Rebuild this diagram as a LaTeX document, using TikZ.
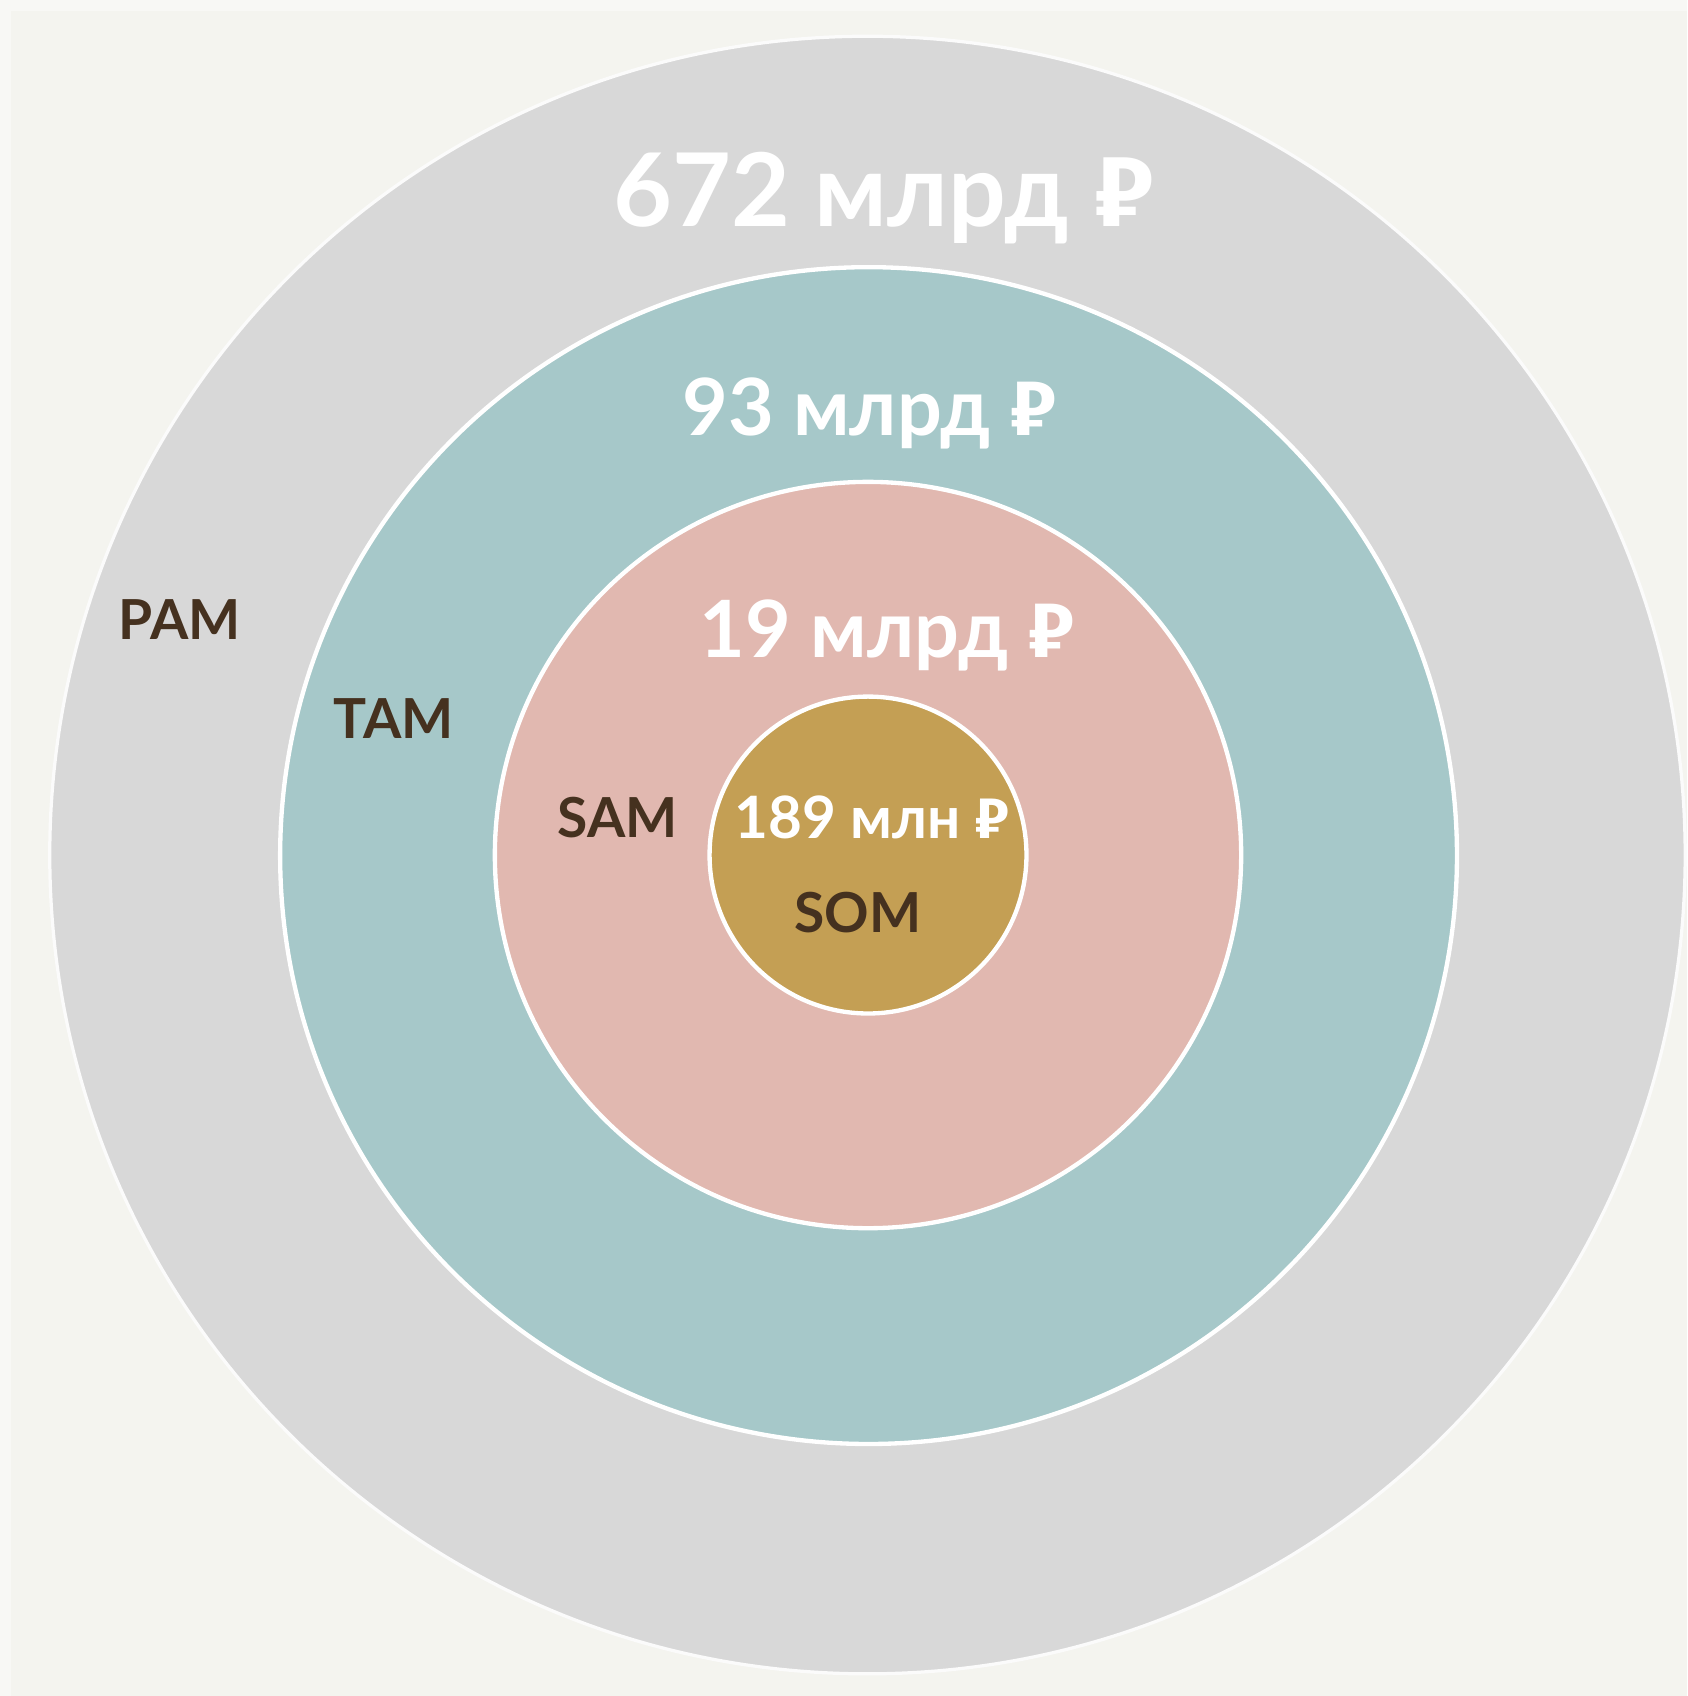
\documentclass[tikz,border=0pt]{standalone}
\usepackage{fontspec}
\setmainfont{Lato}
\newfontfamily\rubfont{Fira Sans}
\newcommand{\rub}{{\rubfont ₽}}
\definecolor{bgc}{HTML}{F4F4EF}
\definecolor{bgedge}{HTML}{F8F8F5}
\definecolor{pamc}{HTML}{D8D8D8}
\definecolor{tamc}{HTML}{A6C8C9}
\definecolor{samc}{HTML}{E1B8B0}
\definecolor{somc}{HTML}{C49F54}
\definecolor{labc}{HTML}{45311F}
\tikzset{
  ring/.style={draw=white, line width=4pt},
  value/.style={text=white, font=\bfseries, anchor=base, inner sep=0pt},
  tag/.style={text=labc, font=\bfseries, anchor=base, inner sep=0pt},
}
\begin{document}
\begin{tikzpicture}[x=1pt,y=-1pt]
\useasboundingbox (0,0) rectangle (1560,1568);
\fill[bgedge] (0,0) rectangle (1560,1568);
\fill[bgc] (10,10) rectangle (1560,1568);
\path[ring, fill=pamc, draw=white!90!pamc, line width=3pt] (802,790.5) ellipse [x radius=756, y radius=757];
\path[ring, fill=tamc] (803,791) circle [radius=544];
\path[ring, fill=samc] (802.5,790.5) circle [radius=345];
\path[ring, fill=somc] (802.5,790.5) circle [radius=146.5];
\node[value, font=\bfseries\fontsize{94}{94}\selectfont] (v1) at (817,209) {672 млрд \rub};
\node[value, font=\bfseries\fontsize{73}{73}\selectfont] (v2) at (804,403) {93 млрд \rub};
\node[value, font=\bfseries\fontsize{73}{73}\selectfont] (v3) at (820,608) {19 млрд \rub};
\node[value, font=\bfseries\fontsize{54}{54}\selectfont] (v4) at (806,775) {189 млн \rub};
\node[tag, font=\bfseries\fontsize{51}{51}\selectfont] (pam) at (166,591) {PAM};
\node[tag, font=\bfseries\fontsize{51}{51}\selectfont] (tam) at (364,683) {TAM};
\node[tag, font=\bfseries\fontsize{51}{51}\selectfont] (sam) at (571,774) {SAM};
\node[tag, font=\bfseries\fontsize{51}{51}\selectfont] (som) at (793,862) {SOM};
\end{tikzpicture}
\end{document}
